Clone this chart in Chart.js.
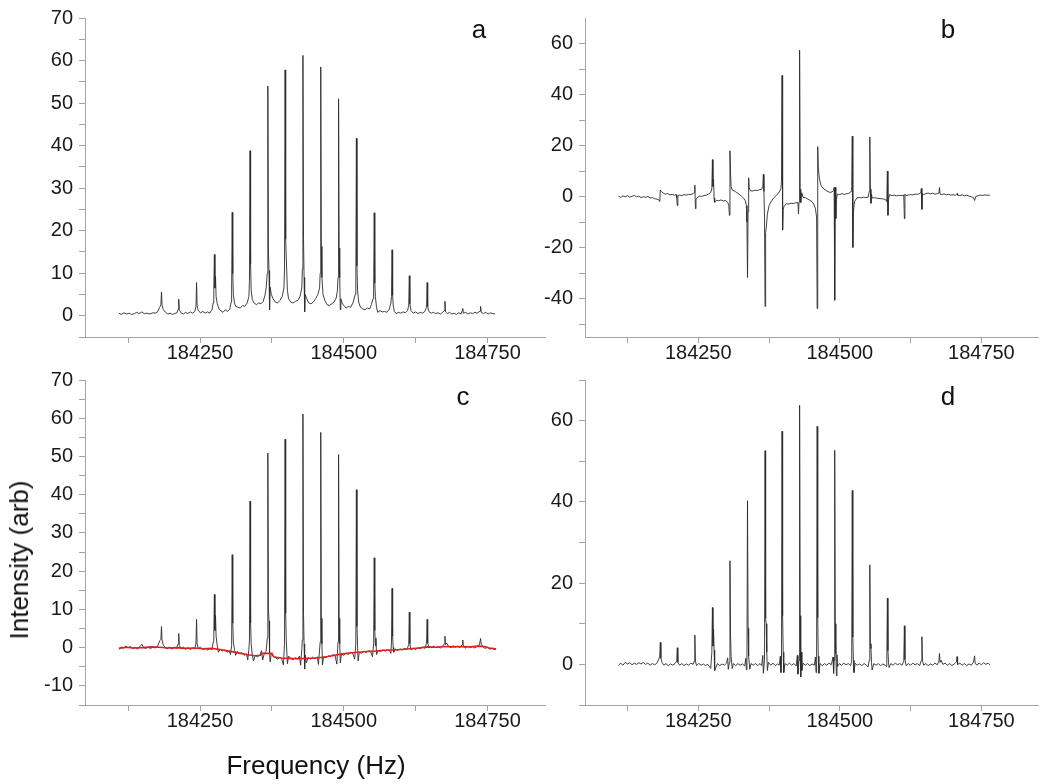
<!DOCTYPE html>
<html>
<head>
<meta charset="utf-8">
<script src="https://cdn.jsdelivr.net/npm/chart.js@4.4.1/dist/chart.umd.min.js"></script>
<style>
    html, body { margin: 0; padding: 0; background: #fff; }
    #wrap { position: relative; width: 1050px; height: 784px; overflow: hidden; font-family: "Liberation Sans", Arial, sans-serif; color: #111; }
    #wrap canvas { position: absolute; left: 0; top: 0; }
    .lbl { position: absolute; font-size: 26px; line-height: 30px; white-space: nowrap; transform: translateX(-50%); }
    .ytitle { position: absolute; font-size: 26px; line-height: 30px; white-space: nowrap; transform: translate(-50%, -50%) rotate(-90deg); }
</style>
</head>
<body>
<div id="wrap">
    <canvas id="pa" width="1050" height="784"></canvas>
    <canvas id="pb" width="1050" height="784"></canvas>
    <canvas id="pc" width="1050" height="784"></canvas>
    <canvas id="pd" width="1050" height="784"></canvas>
    <div class="lbl" style="left:479px;top:14px">a</div>
    <div class="lbl" style="left:948px;top:14px">b</div>
    <div class="lbl" style="left:463px;top:381px">c</div>
    <div class="lbl" style="left:948px;top:381px">d</div>
    <div class="lbl" style="left:316px;top:750px">Frequency (Hz)</div>
    <div class="ytitle" style="left:19px;top:560px">Intensity (arb)</div>
</div>
<script>
// frequency axis (Hz)
const xMin = 184050;
const xMax = 184850;
const xTicks = [184125, 184250, 184375, 184500, 184625, 184750];
const xTickLabels = [184250, 184500, 184750];

// intensity axes
const yTicksA = [-5, 0, 5, 10, 15, 20, 25, 30, 35, 40, 45, 50, 55, 60, 65, 70];
const yLabelsA = [0, 10, 20, 30, 40, 50, 60, 70];
const yTicksB = [-50, -40, -30, -20, -10, 0, 10, 20, 30, 40, 50, 60];
const yLabelsB = [-40, -20, 0, 20, 40, 60];
const yTicksC = [-15, -10, -5, 0, 5, 10, 15, 20, 25, 30, 35, 40, 45, 50, 55, 60, 65, 70];
const yLabelsC = [-10, 0, 10, 20, 30, 40, 50, 60, 70];
const yTicksD = [-10, 0, 10, 20, 30, 40, 50, 60, 70];
const yLabelsD = [0, 20, 40, 60];

// (a) raw spectrum, [Hz, intensity]
const spectrumA = [
    [184109,0.6],[184113,0.3],[184118,0.7],[184122,0.4],[184127,0.6],[184131,0.3],[184136,0.5],[184140,0.8],[184144,0.5],[184149,0.9],
    [184153,0.5],[184158,0.6],[184163,0.4],[184168,0.7],[184172,0.6],[184176,0.9],
    [184180,2.0],[184182,2.6],[184183,5.6],[184184,2.5],[184186,1.5],[184190,0.8],[184194,0.4],[184198,0.6],[184202,0.3],[184206,0.5],[184210,0.7],
    [184212,1.5],[184213,3.9],[184214,1.4],[184217,0.7],[184221,0.4],[184225,0.8],[184229,0.5],[184233,0.9],[184237,0.6],[184241,1.0],
    [184243,2.2],[184244,7.8],[184245,2.4],[184247,1.2],[184251,0.7],[184255,1.0],[184259,0.6],[184263,0.9],[184267,0.6],[184271,1.5],
    [184273,3.0],[184274,6],[184275,14.4],[184276,6.5],[184277,9.2],[184278,4.5],[184280,2.8],[184283,1.6],[184286,1.2],[184290,0.8],[184294,1.4],[184298,1.0],[184302,1.6],
    [184304,3.2],[184305,6],[184306,24.3],[184307,9.9],[184308,5],[184310,3],[184312,2.2],[184316,2.0],[184320,1.8],[184324,2.4],[184328,2.2],[184332,3.0],
    [184335,4.5],[184336,8],[184337,38.8],[184338,12.2],[184339,6],[184341,3.8],[184344,3.0],[184348,2.6],[184352,3.0],[184356,2.8],[184360,3.4],[184363,4.8],
    [184365,6.5],[184367,10],[184368,54],[184369,15.2],[184370,10.6],[184371,1.4],[184372,6.7],[184374,5],[184377,4.0],[184381,3.2],[184385,3.0],[184389,3.6],[184393,4.5],
    [184396,6.5],[184397,11],[184398,57.8],[184399,18],[184400,13.6],[184402,6],[184404,4.0],[184408,3.2],[184412,3.0],[184416,3.4],[184420,3.6],[184424,4.5],
    [184427,6.5],[184428,11],[184429,61.2],[184430,18.2],[184431,9],[184432,0.9],[184433,5],[184435,4.2],[184439,3.0],[184443,2.8],[184447,3.2],[184451,4.0],[184455,5.0],
    [184458,6.5],[184459,10],[184460,58.5],[184461,16.3],[184462,9],[184464,5],[184467,3.6],[184471,2.6],[184475,2.4],[184479,2.8],[184483,3.2],[184487,4.2],
    [184489,6],[184490,9],[184491,51],[184492,15.9],[184493,9],[184494,1.4],[184495,4],[184497,3.0],[184500,2.4],[184504,1.8],[184508,2.2],[184512,2.0],[184516,3.0],
    [184520,5],[184521,8],[184522,41.7],[184523,11.7],[184524,6],[184526,3.2],[184529,2.0],[184533,1.6],[184537,1.4],[184541,1.8],[184545,1.6],[184548,2.6],
    [184551,4],[184552,6],[184553,24.2],[184554,7.6],[184555,4.5],[184557,2.0],[184559,0.8],[184563,1.2],[184567,0.9],[184571,1.0],[184575,0.8],[184579,1.5],
    [184582,3],[184583,4.5],[184584,15.5],[184585,4.8],[184586,2.5],[184588,1.0],[184591,0.5],[184595,0.8],[184599,0.6],[184603,0.9],[184607,0.7],[184611,1.2],
    [184613,2.5],[184614,9.4],[184615,2.8],[184617,1.2],[184621,0.6],[184625,0.9],[184629,0.5],[184633,0.8],[184637,0.6],[184641,1.0],
    [184644,2],[184645,7.8],[184646,2.2],[184648,1.0],[184652,0.6],[184656,0.8],[184660,0.5],[184664,0.7],[184668,0.4],[184672,0.8],
    [184675,1.2],[184676,3.4],[184677,0.9],[184680,0.5],[184684,0.8],[184688,0.4],[184692,0.6],[184696,0.3],[184700,0.7],[184704,0.4],
    [184706,1.2],[184707,1.7],[184708,0.6],[184712,0.8],[184716,0.4],[184720,0.7],[184724,0.5],[184728,0.8],[184732,0.6],
    [184737,1.1],[184738,2.2],[184739,0.8],[184743,0.5],[184747,0.8],[184751,0.4],[184755,0.7],[184759,0.5],[184763,0.4]
];

// (b) dispersive spectrum
const spectrumB = [
    [184109,0.2],[184113,-0.3],[184117,0.3],[184121,-0.1],[184125,0.4],[184129,-0.2],[184133,0.1],[184137,0.5],[184141,-0.1],[184145,0.2],
    [184149,-0.4],[184153,0.0],[184157,-0.3],[184161,0.1],[184165,-0.5],[184169,-0.4],[184173,-0.8],[184177,-1.0],[184180,-1.2],[184182,-1.9],
    [184183,2.6],[184185,2.0],[184188,1.4],[184192,1.0],[184196,1.2],[184200,0.7],[184204,0.9],[184208,0.6],[184211,0.8],
    [184212,-0.5],[184213,-3.5],[184214,0.3],[184217,0.6],[184221,0.4],[184225,0.8],[184229,0.6],[184233,0.9],[184237,0.8],[184241,1.2],[184243,1.6],
    [184244,4.5],[184245,-4.7],[184246,-1.2],[184248,-0.4],[184252,0.2],[184256,0.1],[184260,0.4],[184264,0.6],[184268,1.0],[184272,1.6],
    [184274,3],[184275,14.5],[184276,4],[184277,6.8],[184278,-0.5],[184279,-2.2],[184282,-1.4],[184286,-1.6],[184290,-1.3],[184294,-1.7],[184298,-1.5],[184302,-2.2],[184304,-3.5],
    [184305,-7.3],[184306,18],[184307,9.3],[184308,4],[184310,2.6],[184314,2.2],[184318,1.6],[184322,1.0],[184326,0.2],[184330,-0.6],[184333,-1.5],[184335,-3.5],
    [184336,-10],[184337,-31.7],[184338,-6],[184339,7.4],[184340,3.5],[184342,2.3],[184346,2.2],[184350,2.5],[184354,2.4],[184358,2.7],[184362,2.9],[184364,4],
    [184365,8.7],[184366,2],[184367,-8],[184368,-43],[184369,-14],[184370,-12.5],[184372,-7],[184375,-3.5],[184379,-1.8],[184383,-0.6],[184387,0.3],[184391,1.2],[184394,2.2],[184396,3.2],
    [184397,6],[184398,47.5],[184399,-13.1],[184400,-5],[184402,-3.5],[184406,-2.8],[184410,-2.9],[184414,-2.6],[184418,-2.7],[184422,-2.4],[184426,-2.3],[184427,-6.7],[184428,-2.0],
    [184429,57.4],[184430,2.9],[184431,-2.3],[184433,1.5],[184435,-0.3],[184439,-0.4],[184443,-0.9],[184447,-1.4],[184451,-2.0],[184454,-2.9],[184457,-4.8],[184459,-8],
    [184460,-43.8],[184461,19.6],[184462,11.3],[184464,7],[184467,4.2],[184472,3.0],[184477,2.2],[184482,1.7],[184486,1.8],[184489,2.4],
    [184490,3.6],[184491,-40.6],[184492,3.6],[184493,-8.6],[184494,-1],[184496,1.0],[184500,0.8],[184504,1.2],[184508,0.9],[184512,1.1],[184516,1.3],[184520,2.0],
    [184521,4],[184522,23.7],[184523,-19.9],[184524,-6],[184526,-1.9],[184530,-0.6],[184534,-0.3],[184538,-0.5],[184542,-0.2],[184546,-0.4],[184550,-0.2],
    [184552,2],[184553,23.4],[184554,2.9],[184555,-2.6],[184556,1.0],[184557,-0.5],[184561,-0.4],[184565,-0.6],[184569,-0.7],[184573,-0.8],[184577,-0.9],[184581,-1.2],
    [184583,-2],[184584,10],[184585,-7.3],[184586,-1],[184588,0.8],[184592,0.4],[184596,0.6],[184600,0.3],[184604,0.5],[184608,0.4],[184612,0.6],
    [184613,0.2],[184614,-8.6],[184615,1.0],[184617,0.4],[184621,0.6],[184625,0.8],[184629,0.7],[184633,1.0],[184637,0.9],[184641,1.2],[184643,1.5],
    [184644,3.2],[184645,-5],[184646,1.3],[184648,0.8],[184652,1.2],[184656,1.4],[184660,1.1],[184664,1.3],[184668,1.0],[184672,1.2],[184675,1.4],
    [184676,3.6],[184677,1.0],[184680,0.8],[184684,1.1],[184688,0.7],[184692,0.9],[184696,0.6],[184700,0.8],[184704,0.5],[184707,1.2],[184708,0.6],
    [184712,0.4],[184716,0.7],[184720,0.3],[184724,0.6],[184728,0.2],[184732,0.0],[184736,-0.4],[184738,-1.5],[184740,0.1],[184744,0.3],[184748,0.6],
    [184752,0.4],[184756,0.7],[184760,0.5],[184765,0.6]
];

// (c) spectrum with fitted baseline (red)
const spectrumC = [
    [184109,-0.5],[184113,0.2],[184117,-0.2],[184121,0.4],[184125,0.0],[184129,0.3],[184133,-0.3],[184137,0.1],[184141,-0.4],[184145,0.2],
    [184149,0.9],[184152,0.0],[184156,-0.2],[184160,0.1],[184164,-0.3],[184168,0.2],[184172,-0.1],[184176,0.3],
    [184180,1.8],[184182,2.2],[184183,5.5],[184184,2.0],[184186,0.8],[184189,0.0],[184193,-0.3],[184197,0.2],[184201,-0.4],[184205,0.1],[184209,-0.2],
    [184212,1.0],[184213,3.7],[184214,0.6],[184217,-0.3],[184221,0.1],[184225,-0.4],[184229,0.0],[184233,-0.5],[184237,-0.1],[184241,-0.3],
    [184243,1.2],[184244,7.4],[184245,1.0],[184247,-0.2],[184251,0.1],[184255,-0.5],[184259,-0.2],[184263,-0.6],[184267,-0.3],[184271,-0.5],
    [184273,1.5],[184274,3],[184275,13.9],[184276,4.5],[184277,8.4],[184278,3],[184280,0.5],[184282,-1.2],[184285,-0.4],[184289,-0.9],[184293,-0.6],[184297,-1.2],[184301,-0.8],[184303,-1.8],
    [184305,0.5],[184306,24.3],[184307,6.4],[184308,1.5],[184310,-0.5],[184312,-2.0],[184315,-1.0],[184319,-1.6],[184323,-1.3],[184327,-2.0],[184331,-1.6],[184333,-3.2],
    [184335,-0.5],[184336,2],[184337,38.3],[184338,6.4],[184339,1.0],[184341,-2.0],[184343,-3.5],[184346,-2.0],[184350,-2.4],[184354,-2.0],[184357,-0.8],[184359,-3.2],[184362,-1.4],[184365,-1.0],
    [184367,2.5],[184368,50.9],[184369,9.8],[184370,7],[184371,-1.5],[184372,-3.7],[184374,-1.5],[184377,-2.2],[184381,-2.6],[184385,-3.0],[184389,-2.5],[184392,-2.9],[184395,-4.5],
    [184397,1],[184398,54.5],[184399,9.0],[184400,2],[184402,-4.2],[184404,-2.2],[184408,-2.8],[184412,-3.2],[184416,-2.6],[184420,-3.0],[184423,-2.2],[184425,-4.6],[184427,-0.5],
    [184428,2],[184429,61.1],[184430,9.0],[184431,1],[184432,-5.6],[184433,-2.0],[184435,-4.0],[184438,-2.6],[184442,-3.0],[184446,-2.5],[184450,-2.9],[184454,-2.4],[184456,-4.4],
    [184459,1.5],[184460,56.3],[184461,7.7],[184462,1],[184463,-4.5],[184465,-2.3],[184469,-2.7],[184473,-2.1],[184477,-2.4],[184481,-1.8],[184485,-2.2],[184488,-4.3],
    [184490,1.5],[184491,50.5],[184492,7.7],[184493,1],[184494,-4.0],[184496,-1.6],[184500,-2.0],[184504,-1.4],[184508,-1.8],[184512,-1.2],[184516,-1.6],[184519,-3.0],
    [184521,1],[184522,41.3],[184523,5.5],[184524,0.5],[184525,-3.5],[184527,-1.2],[184531,-1.5],[184535,-0.9],[184539,-1.3],[184543,-0.8],[184547,-1.1],[184550,-2.4],
    [184552,1],[184553,23.5],[184554,4.5],[184555,0.5],[184556,2.5],[184557,-1.8],[184560,-0.7],[184564,-1.0],[184568,-0.6],[184572,-0.9],[184576,-0.5],[184580,-0.8],[184582,-1.5],
    [184583,1.5],[184584,15.5],[184585,3],[184586,0],[184587,-1.2],[184590,-0.4],[184594,-0.7],[184598,-0.3],[184602,-0.6],[184606,-0.2],[184610,-0.5],
    [184613,0.8],[184614,9.3],[184615,1],[184617,-0.6],[184621,-0.2],[184625,-0.5],[184629,0.0],[184633,-0.3],[184637,0.1],[184641,-0.2],
    [184644,1.2],[184645,7.4],[184646,1.2],[184648,0.3],[184652,0.0],[184656,0.4],[184660,0.0],[184664,0.3],[184668,-0.1],[184672,0.4],
    [184675,1.0],[184676,3.0],[184677,0.8],[184679,1.2],[184682,0.4],[184686,0.0],[184690,0.5],[184694,0.1],[184698,0.4],[184702,0.0],
    [184706,0.8],[184707,2.0],[184708,0.2],[184712,-0.1],[184716,0.4],[184720,0.0],[184724,0.3],[184728,-0.1],[184732,0.4],[184736,0.8],
    [184738,2.4],[184739,0.9],[184742,0.2],[184746,-0.2],[184750,0.1],[184754,-0.4],[184758,-0.1],[184762,-0.5],[184765,-0.4]
];
const baselineC = [
    [184109,-0.2],[184120,0.1],[184135,-0.1],[184150,0.0],[184165,0.2],[184180,0.1],[184195,-0.1],[184210,0.0],[184225,-0.2],[184240,-0.1],
    [184255,-0.3],[184270,-0.2],[184285,-0.5],[184300,-0.9],[184315,-1.3],[184330,-1.8],[184345,-2.1],[184355,-2.0],[184358,-1.5],[184375,-1.5],
    [184378,-2.4],[184390,-2.7],[184405,-2.8],[184420,-2.9],[184435,-2.8],[184450,-2.7],[184465,-2.5],[184480,-2.1],[184495,-1.7],[184510,-1.4],
    [184525,-1.2],[184540,-1.0],[184555,-0.9],[184570,-0.7],[184585,-0.6],[184600,-0.5],[184615,-0.3],[184630,-0.1],[184645,0.2],[184660,0.1],
    [184675,0.3],[184690,0.2],[184705,0.3],[184720,0.2],[184735,0.4],[184745,0.3],[184755,-0.2],[184765,-0.3]
];

// (d) baseline-corrected spectrum
const spectrumD = [
    [184109,-0.3],[184113,0.3],[184117,-0.2],[184121,0.5],[184125,0.1],[184129,0.4],[184133,-0.1],[184137,0.3],[184141,0.0],[184145,0.4],
    [184149,0.1],[184153,0.5],[184157,0.0],[184161,0.3],[184165,-0.2],[184169,0.2],[184173,-0.1],[184177,0.3],
    [184180,1.2],[184182,2.0],[184183,5.4],[184184,1.5],[184186,0.5],[184189,-0.2],[184193,0.2],[184197,-0.3],[184201,0.1],[184205,-0.2],[184209,0.2],
    [184212,0.8],[184213,4.1],[184214,0.5],[184217,-0.2],[184221,0.2],[184225,-0.3],[184229,0.1],[184233,-0.2],[184237,0.3],[184241,0.0],
    [184243,0.8],[184244,7.2],[184245,0.8],[184247,-0.3],[184251,0.2],[184255,-0.2],[184259,0.1],[184263,-0.3],[184267,0.0],[184270,-0.6],[184272,-1.0],
    [184274,3],[184275,14],[184276,4.5],[184277,8.7],[184278,3.5],[184279,-1.5],[184281,-0.8],[184284,0.2],[184288,-0.3],[184292,0.1],[184296,-0.2],[184300,0.3],[184302,1.6],[184303,-1.2],
    [184305,0.5],[184306,25.5],[184307,7.6],[184308,2],[184310,-1.0],[184312,0.2],[184316,-0.3],[184320,0.2],[184324,-0.2],[184328,0.1],[184332,-0.4],[184334,1.5],[184335,-1.3],
    [184336,0.5],[184337,40.3],[184338,8.9],[184339,2],[184341,-1.2],[184343,0.2],[184347,-0.2],[184351,0.2],[184355,-0.3],[184359,0.2],[184362,-0.3],[184364,2.2],[184365,-2.2],
    [184367,1],[184368,52.6],[184369,11.3],[184370,10],[184371,3],[184372,-1.5],[184374,0.5],[184378,-0.2],[184382,0.3],[184386,-0.3],[184390,0.1],[184393,-0.2],[184395,2.0],[184396,-2.0],
    [184397,1],[184398,57.4],[184399,12],[184400,3],[184401,-2],[184403,0.2],[184407,-0.2],[184411,0.3],[184415,-0.2],[184419,0.2],[184423,-0.4],[184425,2.2],[184426,-2.4],
    [184428,1],[184429,63.8],[184430,12],[184431,-3.1],[184432,3.0],[184433,-1.5],[184435,0.3],[184439,-0.2],[184443,0.2],[184447,-0.3],[184451,0.1],[184455,-0.2],[184457,1.8],[184458,-2],
    [184459,1],[184460,58.6],[184461,11.5],[184462,2],[184463,-2.2],[184465,0.2],[184469,-0.3],[184473,0.2],[184477,-0.2],[184481,0.3],[184485,-0.1],[184488,1.8],[184489,-2.2],
    [184490,1],[184491,52.7],[184492,10],[184493,2.5],[184494,-2.8],[184495,2.4],[184496,-0.5],[184499,0.2],[184503,-0.2],[184507,0.3],[184511,-0.1],[184515,0.2],[184519,-0.3],
    [184521,0.8],[184522,42.8],[184523,6.7],[184524,1],[184525,-2.0],[184527,0.3],[184531,-0.2],[184535,0.1],[184539,-0.3],[184543,0.2],[184547,-0.2],[184550,-0.6],
    [184552,1],[184553,24.5],[184554,5.1],[184555,3.9],[184556,0.5],[184557,-1.4],[184560,0.2],[184564,-0.2],[184568,0.2],[184572,-0.3],[184576,0.1],[184580,-0.2],[184582,-0.5],
    [184583,1],[184584,16.3],[184585,3.4],[184586,0.5],[184587,-0.8],[184590,0.2],[184594,-0.2],[184598,0.3],[184602,-0.1],[184606,0.2],[184610,-0.2],
    [184613,0.8],[184614,9.5],[184615,1.2],[184617,-0.3],[184621,0.2],[184625,-0.2],[184629,0.3],[184633,-0.1],[184637,0.2],[184641,-0.3],
    [184644,1.0],[184645,6.8],[184646,1.0],[184648,-0.2],[184652,0.2],[184656,-0.3],[184660,0.1],[184664,-0.2],[184668,0.3],[184672,-0.1],
    [184675,0.8],[184676,2.7],[184677,0.5],[184679,1.0],[184682,0.0],[184686,0.3],[184690,-0.2],[184694,0.2],[184698,-0.3],[184702,0.1],
    [184706,0.6],[184707,1.9],[184708,0.0],[184712,0.3],[184716,-0.2],[184720,0.2],[184724,-0.3],[184728,0.1],[184732,-0.2],[184736,0.5],
    [184738,2.1],[184739,0.3],[184742,-0.2],[184746,0.3],[184750,-0.1],[184754,0.4],[184758,0.0],[184762,0.3],[184765,-0.1]
];

const axisGray = '#a3a3a3';
const textColor = '#1a1a1a';
const traceColor = '#2b2b2b';
const tickFont = { family: '"Liberation Sans", Arial, sans-serif', size: 20 };

const toXY = (pairs) => pairs.map(([x, y]) => ({ x, y }));

function trace(pairs, color, width) {
    return {
        data: toXY(pairs),
        borderColor: color,
        borderWidth: width,
        pointRadius: 0,
        tension: 0,
        fill: false,
    };
}

function makePanel(id, datasets, yMin, yMax, yTicks, yLabels, padding) {
    return new Chart(document.getElementById(id), {
        type: 'line',
        data: { datasets },
        options: {
            responsive: false,
            animation: false,
            devicePixelRatio: 1,
            layout: { padding },
            plugins: { legend: { display: false }, tooltip: { enabled: false } },
            scales: {
                x: {
                    type: 'linear',
                    min: xMin,
                    max: xMax,
                    afterBuildTicks: (axis) => { axis.ticks = xTicks.map((v) => ({ value: v })); },
                    afterFit: (axis) => { axis.height = 43; },
                    grid: { drawOnChartArea: false, drawTicks: true, tickLength: 6, color: axisGray },
                    border: { display: true, color: axisGray },
                    ticks: {
                        autoSkip: false,
                        maxRotation: 0,
                        padding: -2,
                        color: textColor,
                        font: tickFont,
                        callback: (v) => (xTickLabels.includes(v) ? String(v) : ''),
                    },
                },
                y: {
                    type: 'linear',
                    min: yMin,
                    max: yMax,
                    afterBuildTicks: (axis) => { axis.ticks = yTicks.map((v) => ({ value: v })); },
                    afterFit: (axis) => { axis.width = 85; },
                    grid: { drawOnChartArea: false, drawTicks: true, tickLength: 6, color: axisGray },
                    border: { display: true, color: axisGray },
                    ticks: {
                        autoSkip: false,
                        padding: 6,
                        color: textColor,
                        font: tickFont,
                        callback: (v) => (yLabels.includes(v) ? String(v) : ''),
                    },
                },
            },
        },
    });
}

makePanel('pa', [trace(spectrumA, traceColor, 0.9)], -5, 70, yTicksA, yLabelsA,
    { left: 0, top: 12, right: 505, bottom: 404 });
makePanel('pb', [trace(spectrumB, traceColor, 0.9)], -55, 70, yTicksB, yLabelsB,
    { left: 500, top: 12, right: 12, bottom: 404 });
makePanel('pc', [trace(baselineC, '#e0201e', 1.6), trace(spectrumC, traceColor, 0.9)], -15, 70, yTicksC, yLabelsC,
    { left: 0, top: 380, right: 505, bottom: 36 });
makePanel('pd', [trace(spectrumD, traceColor, 0.9)], -10, 70, yTicksD, yLabelsD,
    { left: 500, top: 380, right: 12, bottom: 36 });
</script>
</body>
</html>
